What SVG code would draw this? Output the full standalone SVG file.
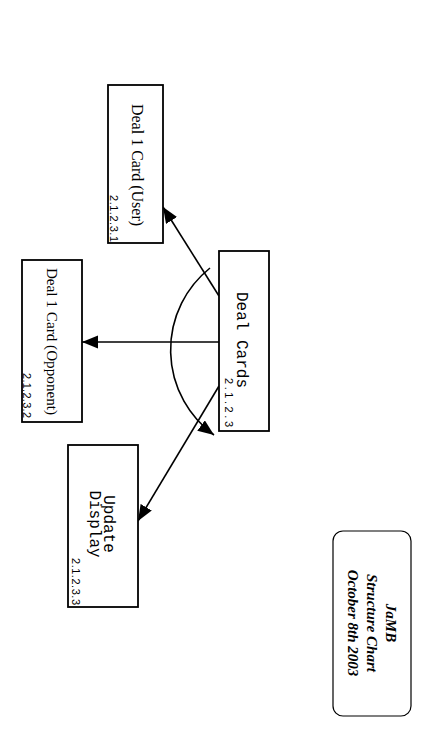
<svg xmlns="http://www.w3.org/2000/svg" width="427" height="738" viewBox="0 0 427 738">
<style>
.box{fill:#fff;stroke:#000;stroke-width:1.8}
.ln{fill:none;stroke:#000;stroke-width:1.6}
.ser{font-family:"Liberation Serif","Times New Roman",serif;fill:#000}
.mono{font-family:"Liberation Mono","Courier New",monospace;font-size:16px;fill:#000}
.num{font-family:"Liberation Sans",Arial,sans-serif;font-size:11px;fill:#000}
.title{font-family:"Liberation Serif","Times New Roman",serif;font-size:15px;font-weight:bold;font-style:italic;fill:#000}
</style>
<defs>
<marker id="ah" markerUnits="userSpaceOnUse" markerWidth="18" markerHeight="14" refX="16" refY="6.5" orient="auto">
<path d="M0,0 L16,6.5 L0,13 z" fill="#000"/>
</marker>
</defs>
<rect width="427" height="738" fill="#fff"/>
<g id="connectors">
<line class="ln" x1="219" y1="296" x2="163" y2="207" marker-end="url(#ah)"/>
<line class="ln" x1="219" y1="342" x2="82" y2="342" marker-end="url(#ah)"/>
<line class="ln" x1="219" y1="386" x2="138" y2="521" marker-end="url(#ah)"/>
<path class="ln" d="M210,268 A105,105 0 0,0 214,435" marker-end="url(#ah)"/>
</g>
<g id="n2123">
<rect class="box" x="219" y="251" width="50" height="180"/>
<text class="mono" transform="translate(237,340) rotate(90)" text-anchor="middle">Deal Cards</text>
<text class="num" transform="translate(224.5,378) rotate(90)" textLength="49" lengthAdjust="spacing">2.1.2.3</text>
</g>
<g id="n21231">
<rect class="box" x="108" y="85" width="55" height="158"/>
<text class="ser" font-size="16" transform="translate(132,165) rotate(90)" text-anchor="middle">Deal 1 Card (User)</text>
<text class="num" transform="translate(109.5,195) rotate(90)" textLength="47" lengthAdjust="spacing">2.1.2.3.1</text>
</g>
<g id="n21232">
<rect class="box" x="22" y="260" width="60" height="162"/>
<text class="ser" font-size="15.2" transform="translate(46.5,341.5) rotate(90)" text-anchor="middle">Deal 1 Card (Opponent)</text>
<text class="num" transform="translate(22.5,373) rotate(90)" textLength="45" lengthAdjust="spacing">2.1.2.3.2</text>
</g>
<g id="n21233">
<rect class="box" x="68" y="445" width="70" height="162"/>
<text class="mono" transform="translate(104,524) rotate(90)" text-anchor="middle">Update</text>
<text class="mono" transform="translate(90,524) rotate(90)" text-anchor="middle">Display</text>
<text class="num" transform="translate(71.5,558) rotate(90)" textLength="47" lengthAdjust="spacing">2.1.2.3.3</text>
</g>
<g id="legend">
<rect class="box" x="333" y="531" width="78" height="185" rx="10" ry="10" style="stroke-width:1.2"/>
<text class="title" transform="translate(386,623) rotate(90)" text-anchor="middle">JaMB</text>
<text class="title" transform="translate(367,623) rotate(90)" text-anchor="middle">Structure Chart</text>
<text class="title" transform="translate(348,623) rotate(90)" text-anchor="middle">October 8th 2003</text>
</g>
</svg>
